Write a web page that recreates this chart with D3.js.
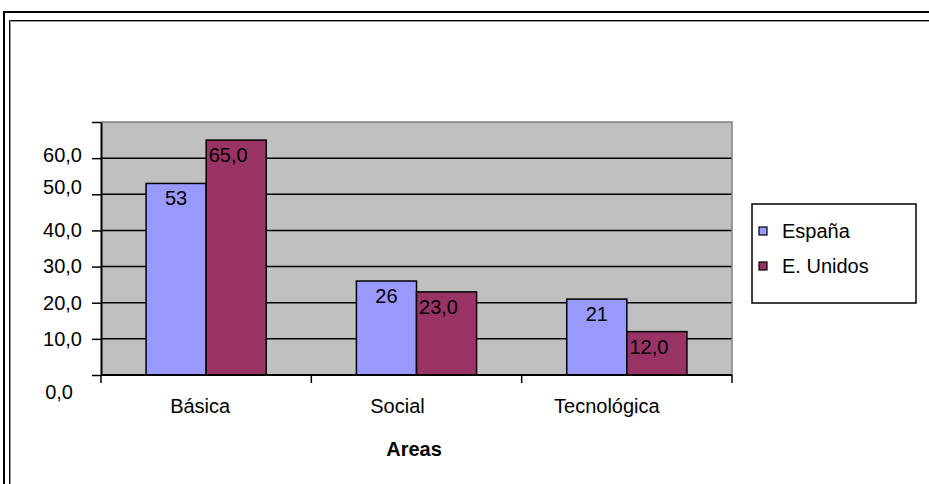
<!DOCTYPE html>
<html>
<head>
<meta charset="utf-8">
<script src="https://cdn.jsdelivr.net/npm/d3@7"></script>
<style>
  html, body { margin: 0; padding: 0; background: #fff; }
  svg { display: block; font-family: "Liberation Sans", Arial, sans-serif; }
</style>
</head>
<body>
<svg id="chart" width="929" height="484"></svg>
<script>
// Chart data
const categories = ["Básica", "Social", "Tecnológica"];
const seriesNames = ["España", "E. Unidos"];
const espana = [53, 26, 21];
const unidos = [65, 23, 12];
const yTickValues = [0, 10, 20, 30, 40, 50, 60, 70];
const yTickLabels = ["0,0", "10,0", "20,0", "30,0", "40,0", "50,0", "60,0", ""];
const xTitle = "Areas";

const colors = { "España": "#9999FF", "E. Unidos": "#993366" };
const seriesValues = { "España": espana, "E. Unidos": unidos };
const labelFormat = {
  "España": d3.format("d"),
  "E. Unidos": v => d3.format(".1f")(v).replace(".", ",")
};

const svg = d3.select("#chart");

// Double frame around the chart object
svg.append("path").attr("d", "M4,484 V12 H929").attr("fill", "none")
  .attr("stroke", "#000").attr("stroke-width", 2);
svg.append("path").attr("d", "M9.5,484 V20.5 H929").attr("fill", "none")
  .attr("stroke", "#000").attr("stroke-width", 1);
svg.append("path").attr("d", "M10.5,484 V21.5 H929").attr("fill", "none")
  .attr("stroke", "#9a9a9a").attr("stroke-width", 1);

// Plot area
const plot = { left: 101, right: 732, top: 122, bottom: 375 };

const x0 = d3.scaleBand().domain(categories).range([plot.left, plot.right])
  .paddingInner(0).paddingOuter(0);
const x1 = d3.scaleBand().domain(seriesNames).range([0, x0.bandwidth()])
  .paddingInner(0).paddingOuter(0.75);
const y = d3.scaleLinear().domain([0, 70]).range([plot.bottom, plot.top]);

svg.append("rect")
  .attr("x", plot.left).attr("y", plot.top)
  .attr("width", plot.right - plot.left).attr("height", plot.bottom - plot.top)
  .attr("fill", "#C0C0C0");

// Gridlines
svg.append("g").selectAll("line")
  .data(yTickValues.filter(v => v > 0 && v < 70))
  .join("line")
  .attr("x1", plot.left).attr("x2", plot.right)
  .attr("y1", d => y(d)).attr("y2", d => y(d))
  .attr("stroke", "#000").attr("stroke-width", 1.5);

// Plot border (top / right)
svg.append("path")
  .attr("d", `M${plot.left},${y(70)} H${plot.right} V${plot.bottom}`)
  .attr("fill", "none").attr("stroke", "#808080").attr("stroke-width", 1.5);

// Bars
const groups = svg.append("g").selectAll("g")
  .data(categories)
  .join("g")
  .attr("transform", c => `translate(${x0(c)},0)`);

groups.selectAll("rect")
  .data((c, i) => seriesNames.map(s => ({ s, v: seriesValues[s][i] })))
  .join("rect")
  .attr("x", d => x1(d.s))
  .attr("y", d => y(d.v))
  .attr("width", x1.bandwidth())
  .attr("height", d => y(0) - y(d.v))
  .attr("fill", d => colors[d.s])
  .attr("stroke", "#000").attr("stroke-width", 1.5);

// Value labels just inside the bar tops
groups.selectAll("text")
  .data((c, i) => seriesNames.map(s => ({ s, v: seriesValues[s][i] })))
  .join("text")
  .attr("x", d => x1(d.s) + x1.bandwidth() / 2 + (d.s === "E. Unidos" ? -8 : 0))
  .attr("y", d => y(d.v) + 15)
  .attr("dy", "0.35em")
  .attr("text-anchor", "middle")
  .attr("font-size", 20)
  .attr("fill", "#000")
  .text(d => labelFormat[d.s](d.v));

// Y axis
const yAxis = d3.axisLeft(y)
  .tickValues(yTickValues)
  .tickFormat((d, i) => yTickLabels[i])
  .tickSizeInner(9).tickSizeOuter(0).tickPadding(10);
const yG = svg.append("g").attr("transform", `translate(${plot.left},0)`).call(yAxis);
yG.select(".domain").attr("stroke", "#000").attr("stroke-width", 2);
yG.selectAll(".tick line").attr("stroke", "#000").attr("stroke-width", 1.5);
yG.selectAll(".tick text")
  .attr("font-size", 20).attr("font-family", "Liberation Sans, Arial, sans-serif")
  .attr("fill", "#000");
// Small label placement tweaks for the end labels
yG.selectAll(".tick").filter(d => d === 0).select("text").attr("dx", -9).attr("dy", "1.17em");
yG.selectAll(".tick").filter(d => d === 50).select("text").attr("dy", "-0.05em");
yG.selectAll(".tick").filter(d => d === 60).select("text").attr("dy", "0.17em");

// X axis line and category boundary ticks
svg.append("line")
  .attr("x1", plot.left).attr("x2", plot.right)
  .attr("y1", plot.bottom).attr("y2", plot.bottom)
  .attr("stroke", "#000").attr("stroke-width", 2);
const boundaries = categories.map(c => x0(c)).concat([x0(categories[categories.length - 1]) + x0.bandwidth()]);
svg.append("g").selectAll("line")
  .data(boundaries)
  .join("line")
  .attr("x1", d => d).attr("x2", d => d)
  .attr("y1", plot.bottom).attr("y2", plot.bottom + 8)
  .attr("stroke", "#000").attr("stroke-width", 1.5);

const xAxis = d3.axisBottom(x0).tickSize(0).tickPadding(24);
const xG = svg.append("g").attr("transform", `translate(0,${plot.bottom})`).call(xAxis);
xG.select(".domain").remove();
const xNudge = { "Básica": -6, "Social": -19, "Tecnológica": -20 };
xG.selectAll(".tick text")
  .attr("font-size", 20).attr("font-family", "Liberation Sans, Arial, sans-serif")
  .attr("fill", "#000")
  .attr("dx", d => xNudge[d]);

// Axis title
svg.append("text")
  .attr("x", 414).attr("y", 456)
  .attr("text-anchor", "middle")
  .attr("font-size", 20).attr("font-weight", "bold")
  .text(xTitle);

// Legend
const legend = svg.append("g");
legend.append("rect")
  .attr("x", 752).attr("y", 204).attr("width", 164).attr("height", 99)
  .attr("fill", "#fff").attr("stroke", "#000").attr("stroke-width", 1.5);
const items = legend.selectAll("g.item")
  .data(seriesNames)
  .join("g").attr("class", "item")
  .attr("transform", (d, i) => `translate(759,${227 + i * 35})`);
items.append("rect")
  .attr("width", 8).attr("height", 8)
  .attr("fill", d => colors[d]).attr("stroke", "#000").attr("stroke-width", 1.2);
items.append("text")
  .attr("x", 23).attr("y", 4).attr("dy", "0.35em")
  .attr("font-size", 20).attr("fill", "#000")
  .text(d => d);
</script>
</body>
</html>
